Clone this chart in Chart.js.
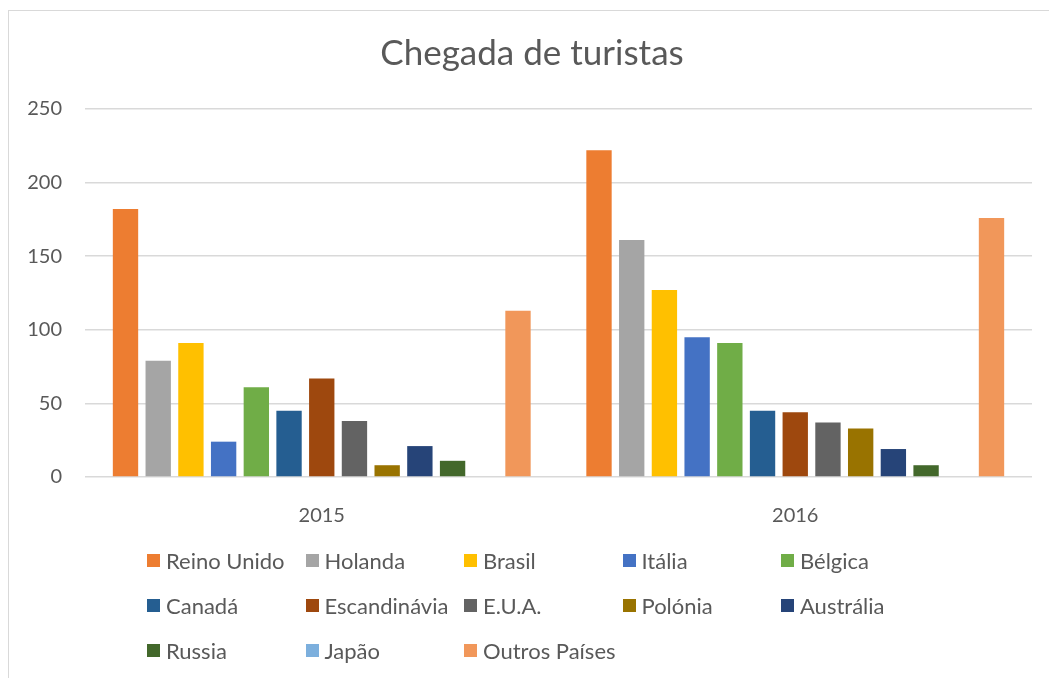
<!DOCTYPE html>
<html>
<head>
<meta charset="utf-8">
<script src="https://cdn.jsdelivr.net/npm/chart.js@4/dist/chart.umd.min.js"></script>
<style>
  html, body { margin: 0; padding: 0; background: #fff; overflow: hidden; }
  #wrap { position: relative; width: 1049px; height: 678px; }
  #moldura { position: absolute; left: 8px; top: 10px; width: 1100px; height: 720px; border: 1.5px solid #d9d9d9; box-sizing: border-box; }
  canvas { position: absolute; left: 0; top: 0; }
  #titulo { position: absolute; left: 0; top: 30px; width: 1064px; text-align: center; font-family: Lato, "Liberation Sans", sans-serif; font-size: 35px; line-height: 42px; color: #595959; }
  #legenda { position: absolute; left: 147px; top: 548px; display: grid; grid-template-columns: repeat(5, 158.5px); grid-auto-rows: 45px; font-family: Lato, "Liberation Sans", sans-serif; font-size: 22px; color: #595959; }
  #legenda div { display: flex; align-items: center; height: 24px; white-space: nowrap; }
  #legenda span.cor { display: inline-block; width: 13px; height: 13px; margin-right: 6px; }
</style>
</head>
<body>
<div id="wrap">
  <div id="moldura"></div>
  <canvas id="grafico" width="1049" height="678"></canvas>
  <div id="titulo">Chegada de turistas</div>
  <div id="legenda"></div>
</div>
<script>
const anos = ["2015", "2016"];
const paises = ["Reino Unido", "Holanda", "Brasil", "Itália", "Bélgica", "Canadá", "Escandinávia", "E.U.A.", "Polónia", "Austrália", "Russia", "Japão", "Outros Países"];
const chegadas2015 = [182, 79, 91, 24, 61, 45, 67, 38, 8, 21, 11, 0, 113];
const chegadas2016 = [222, 161, 127, 95, 91, 45, 44, 37, 33, 19, 8, 0, 176];
const cores = ["#ED7D31", "#A5A5A5", "#FFC000", "#4472C4", "#70AD47", "#255E91", "#9E480E", "#636363", "#997300", "#264478", "#43682B", "#7CAFDD", "#F1975A"];
const yMax = 250;
const yPasso = 50;

const fonte = "Lato, 'Liberation Sans', sans-serif";
const cinza = "#595959";

const datasets = paises.map((p, i) => ({
  label: p,
  data: [chegadas2015[i], chegadas2016[i]],
  backgroundColor: cores[i],
  borderWidth: 0,
  categoryPercentage: 0.898,
  barPercentage: 0.775,
}));

const ctx = document.getElementById("grafico").getContext("2d");
const chart = new Chart(ctx, {
  type: "bar",
  data: { labels: anos, datasets: datasets },
  options: {
    responsive: false,
    animation: false,
    layout: { padding: { left: 9, right: 17, top: 109, bottom: 0 } },
    plugins: {
      legend: { display: false },
      tooltip: { enabled: false },
    },
    scales: {
      x: {
        grid: { display: false },
        border: { display: false },
        ticks: { color: cinza, font: { family: fonte, size: 20 }, padding: 19 },
        afterFit: (s) => { s.height = 201; },
      },
      y: {
        min: 0,
        max: yMax,
        grid: { color: "#d9d9d9", lineWidth: 1.5, drawTicks: false },
        border: { display: false },
        ticks: { stepSize: yPasso, color: cinza, font: { family: fonte, size: 20 }, padding: 23 },
        afterFit: (s) => { s.width = 76; },
      },
    },
  },
});

// legenda em colunas fixas, como no Excel
const leg = document.getElementById("legenda");
chart.data.datasets.forEach((d) => {
  const item = document.createElement("div");
  const c = document.createElement("span");
  c.className = "cor";
  c.style.background = d.backgroundColor;
  item.appendChild(c);
  item.appendChild(document.createTextNode(d.label));
  leg.appendChild(item);
});
</script>
</body>
</html>
